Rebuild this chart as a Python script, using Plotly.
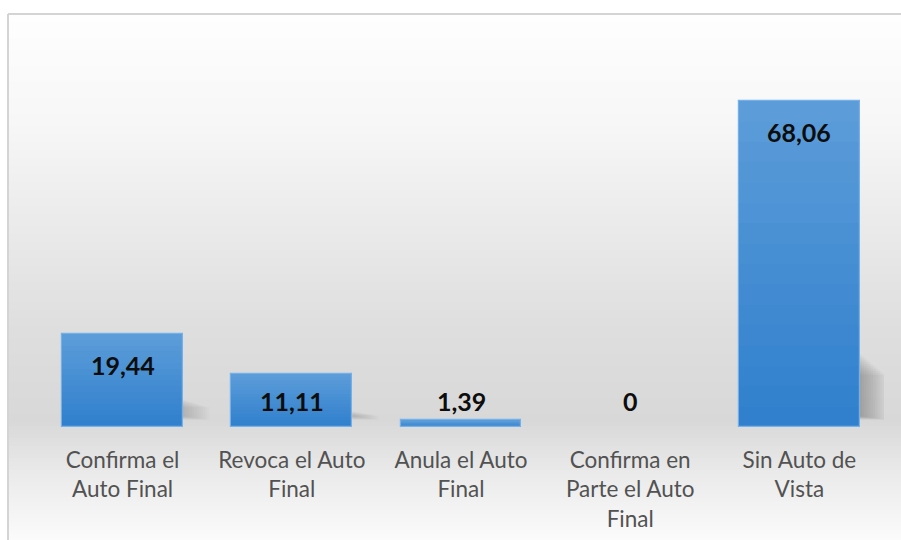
import plotly.graph_objects as go

categories = ["Confirma el<br>Auto Final", "Revoca el Auto<br>Final", "Anula el Auto<br>Final",
              "Confirma en<br>Parte el Auto<br>Final", "Sin Auto de<br>Vista"]
values = [19.44, 11.11, 1.39, 0, 68.06]
value_labels = ["19,44", "11,11", "1,39", "0", "68,06"]

W, H = 901, 540
L, R, T, B = 38, 17, 44, 113
YMAX = 80
plot_h = H - T - B
ppu = plot_h / YMAX
plot_w = W - L - R

def sx(px):  # screen px -> paper x
    return (px - L) / plot_w

def sy(py):  # screen px -> paper y
    return (H - B - py) / plot_h

def hex2rgb(h):
    h = h.lstrip('#')
    return tuple(int(h[i:i+2], 16) for i in (0, 2, 4))

def lerp_color(c1, c2, t):
    a, b = hex2rgb(c1), hex2rgb(c2)
    return "rgb(%d,%d,%d)" % tuple(round(a[i] + (b[i] - a[i]) * t) for i in range(3))

fig = go.Figure()

# gradient bars via stacked slices
N = 16
top_c, bot_c = "#5d9dd9", "#2f7fcd"
for k in range(N):
    t = (k + 0.5) / N
    fig.add_trace(go.Bar(
        x=list(range(len(values))), y=[v / N for v in values], base=[v * k / N for v in values],
        marker=dict(color=lerp_color(bot_c, top_c, t), line=dict(width=0)),
        width=0.715, hoverinfo="skip", showlegend=False))
# outline
fig.add_trace(go.Bar(
    x=list(range(len(values))), y=values,
    marker=dict(color="rgba(0,0,0,0)",
                line=dict(color="#74b0ea", width=[1.2 if v > 0 else 0 for v in values])),
    width=0.715, hoverinfo="skip", showlegend=False))

shapes = []
# background gradient inside frame
stops = [(14, "#fefefe"), (120, "#f7f7f7"), (220, "#ebebeb"), (330, "#dedede"),
         (420, "#d8d8d8"), (470, "#e9e9e9"), (540, "#fbfbfb")]
y = 14
step = 4
while y < 540:
    yc = y + step / 2
    for (ya, ca), (yb, cb) in zip(stops[:-1], stops[1:]):
        if ya <= yc <= yb:
            col = lerp_color(ca, cb, (yc - ya) / (yb - ya))
            break
    shapes.append(dict(type="rect", xref="paper", yref="paper", layer="below",
                       x0=sx(8), x1=sx(903),
                       y0=sy(min(y + step + 0.5, 541)), y1=sy(y),
                       fillcolor=col, line=dict(width=0)))
    y += step
# frame
shapes.append(dict(type="line", xref="paper", yref="paper", layer="below",
                   x0=sx(8), x1=sx(903), y0=sy(14), y1=sy(14),
                   line=dict(color="#d4d4d4", width=2)))
shapes.append(dict(type="line", xref="paper", yref="paper", layer="below",
                   x0=sx(8), x1=sx(8), y0=sy(14), y1=sy(542),
                   line=dict(color="#d4d4d4", width=2)))

# soft shadows to the right of bars
half = 0.715 / 2
for i, v in enumerate(values):
    if v <= 2:
        continue
    sh_top = min(v * 0.3, 15.5)
    alpha = 0.045 if v > 40 else 0.025
    steps = 12
    for j in range(steps):
        f = (j + 1) / steps
        shapes.append(dict(type="rect", xref="x", yref="y", layer="below",
                           x0=i + half, x1=i + half + 0.155 * f,
                           y0=1.5 + 0.8 * (1 - f), y1=sh_top * (0.7 + 0.3 * (1 - f)),
                           fillcolor="rgba(100,100,100,%.3f)" % alpha, line=dict(width=0)))

annotations = []
for i, (v, lab) in enumerate(zip(values, value_labels)):
    if v * ppu - 30 < 26:
        yy, ys = 0, 26
    else:
        yy, ys = v, -31
    annotations.append(dict(x=i, y=yy, xref="x", yref="y", yshift=ys, text="<b>%s</b>" % lab,
                            showarrow=False, font=dict(family="Lato", size=25, color="#0d0d0d")))

fig.update_layout(
    width=W, height=H, barmode="overlay", bargap=0,
    margin=dict(l=L, r=R, t=T, b=B, pad=0, autoexpand=False),
    paper_bgcolor="white", plot_bgcolor="rgba(0,0,0,0)",
    shapes=shapes, annotations=annotations, showlegend=False,
    xaxis=dict(tickmode="array", tickvals=list(range(len(values))), ticktext=categories,
               range=[-0.5, len(values) - 0.5], showgrid=False, zeroline=False, showline=False,
               automargin=False,
               ticks="outside", ticklen=13, tickcolor="rgba(0,0,0,0)",
               tickfont=dict(family="Lato", size=22.5, color="#525252"), tickangle=0),
    yaxis=dict(range=[0, YMAX], showgrid=False, zeroline=False, showline=False,
               showticklabels=False, ticks="", automargin=False),
)
fig.write_html("out.html", config={"displayModeBar": False},
               post_script="document.body.style.margin='0';document.body.style.overflow='hidden';")
